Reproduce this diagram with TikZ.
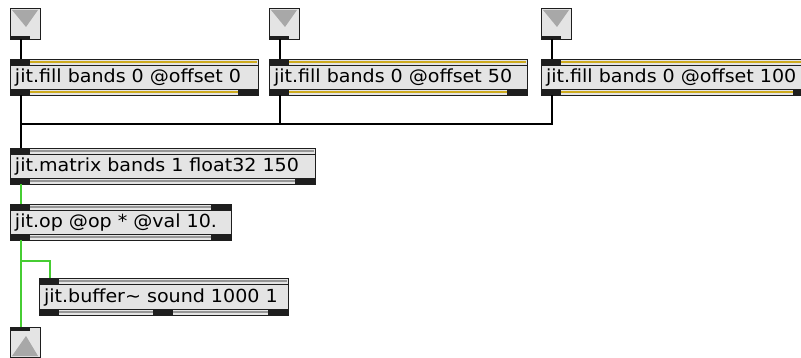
\documentclass[tikz,border=0pt]{standalone}
\usepackage{fontspec}
\setmainfont[FakeStretch=1.06]{DejaVu Sans}
\definecolor{boxfill}{RGB}{228,228,228}
\definecolor{edge}{RGB}{30,30,30}
\definecolor{hot}{RGB}{205,170,30}
\definecolor{cold}{RGB}{150,150,150}
\definecolor{tri}{RGB}{168,168,168}
\definecolor{cordgreen}{RGB}{70,205,50}
\newcommand\topstrip[4]{%
  \draw[line width=1.6pt,#4] (#1+20,#3+3) -- (#2-1,#3+3);
  \draw[edge,line width=0.9pt] (#1,#3+6) -- (#2,#3+6);
  \fill[edge] (#1,#3) rectangle (#1+20,#3+6);}
\newcommand\botstrip[4]{%
  \draw[line width=1.6pt,#4] (#1+20,#3-3) -- (#2-1,#3-3);
  \draw[edge,line width=0.9pt] (#1,#3-6) -- (#2,#3-6);
  \fill[edge] (#1,#3-6) rectangle (#1+20,#3);}
\newcommand\blk[2]{\fill[edge] (#1,#2) rectangle (#1+20,#2+6);}
\begin{document}
\begin{tikzpicture}[x=1pt,y=-1pt,
  obj/.style={draw=edge, fill=boxfill, line width=0.9pt, anchor=north west,
    inner xsep=5pt, inner ysep=0pt, outer sep=0pt, minimum height=36pt,
    text height=15pt, text depth=3pt, align=left,
    font=\fontsize{18}{20}\selectfont},
  iobox/.style={draw=edge, fill=boxfill, line width=0.9pt, anchor=north west,
    inner sep=0pt, outer sep=0pt, minimum width=30pt, minimum height=31pt},
  cord/.style={draw=black, line width=1.2pt},
  mcord/.style={draw=edge, line width=0.5pt, double=cordgreen, double distance=1.6pt}]
\clip (0,0) rectangle (801,358);
\fill[white] (0,0) rectangle (801,358);
% inlet / outlet boxes
\node[iobox] (in1) at (10,8) {};
\node[iobox] (in2) at (269,8) {};
\node[iobox] (in3) at (541,8) {};
\node[iobox, minimum height=30pt] (out) at (10,327) {};
\foreach \L in {10,269,541}{
  \fill[tri] (\L+2,10) -- (\L+28,10) -- (\L+16,27) -- cycle;
  \fill[edge] (\L,36) rectangle (\L+20,39);}
\fill[tri] (12,356) -- (38,356) -- (26,336) -- cycle;
\fill[edge] (10,327) rectangle (30,331);
% objects
\node[obj, text width=238pt] (fill1) at (10,59) {jit.fill bands 0 @offset 0};
\node[obj, text width=248pt] (fill2) at (269,59) {jit.fill bands 0 @offset 50};
\node[obj, text width=262pt] (fill3) at (541,59) {jit.fill bands 0 @offset 100};
\node[obj, text width=295pt] (matrix) at (10,148) {jit.matrix bands 1 float32 150};
\node[obj, text width=211pt] (op) at (10,204) {jit.op @op * @val 10.};
\node[obj, text width=239pt, minimum height=37pt] (buf) at (39,278) {jit.buffer\textasciitilde{} sound 1000 1};
% strips
\topstrip{10}{258}{59}{hot}\botstrip{10}{258}{95}{hot}\blk{238}{89}
\topstrip{269}{527}{59}{hot}\botstrip{269}{527}{95}{hot}\blk{507}{89}
\topstrip{541}{813}{59}{hot}\botstrip{541}{813}{95}{hot}\blk{793}{89}
\topstrip{10}{315}{148}{cold}\botstrip{10}{315}{184}{cold}\blk{295}{178}
\topstrip{10}{231}{204}{cold}\botstrip{10}{231}{240}{cold}\blk{211}{204}\blk{211}{234}
\topstrip{39}{288}{278}{cold}\botstrip{39}{288}{315}{cold}\blk{153}{309}\blk{268}{309}
% cords
\draw[cord] ([xshift=11pt]in1.south west) -- ([xshift=11pt]fill1.north west);
\draw[cord] ([xshift=11pt]in2.south west) -- ([xshift=11pt]fill2.north west);
\draw[cord] ([xshift=11pt]in3.south west) -- ([xshift=11pt]fill3.north west);
\draw[cord] ([xshift=11pt]fill1.south west) -- ([xshift=11pt]matrix.north west);
\draw[cord] ([xshift=11pt]fill2.south west) -- ++(0,29) -| ([xshift=11pt]matrix.north west);
\draw[cord] ([xshift=11pt]fill3.south west) -- ++(0,29) -| ([xshift=11pt]matrix.north west);
\draw[mcord] ([xshift=11pt]matrix.south west) -- ([xshift=11pt]op.north west);
\draw[mcord] ([xshift=11pt]op.south west) -- ([xshift=11pt]out.north west);
\draw[mcord] ([xshift=11pt]op.south west) -- ++(0,21) -| ([xshift=11pt]buf.north west);
\end{tikzpicture}
\end{document}
